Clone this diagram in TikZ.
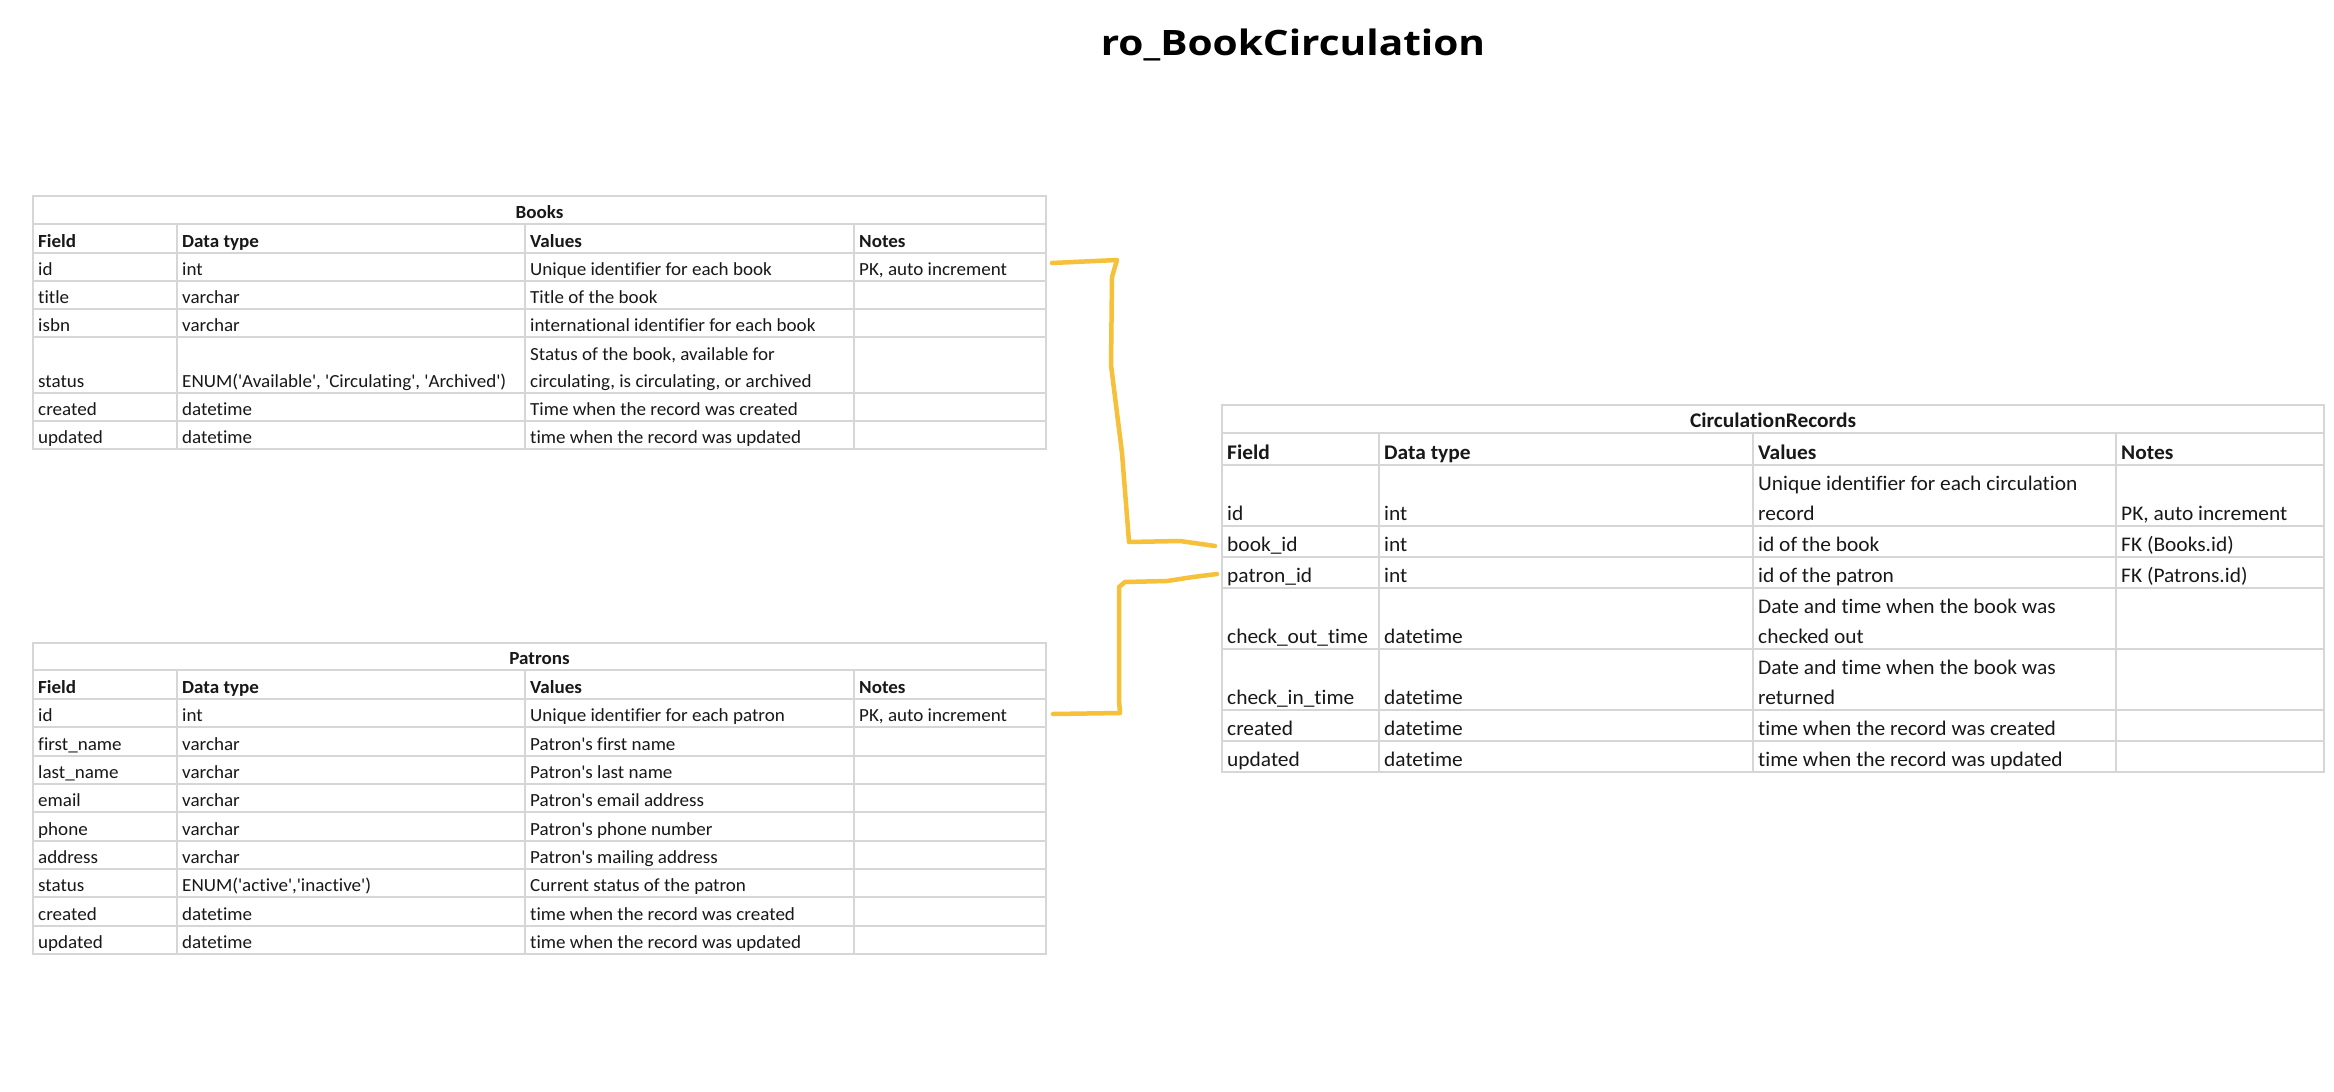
\documentclass[tikz,border=0pt]{standalone}
\usepackage{fontspec}
\setmainfont{Carlito}[FakeStretch=1.03,Ligatures={TeX,NoCommon}]
\newfontfamily\titlefont{Open Sans}[FakeStretch=1.16]
\usetikzlibrary{positioning}
\definecolor{gridcolor}{RGB}{214,214,214}
\definecolor{textcolor}{RGB}{24,24,24}
\definecolor{linkcolor}{RGB}{246,192,58}
\newcommand{\sq}{\textquotesingle}
\tikzset{
	cell/.style={
		anchor=base west,
		inner sep=0pt,
		text=textcolor,
		font=\fontsize{18.5}{22}\selectfont
	},
	headcell/.style={
		cell,
		font=\fontsize{18.5}{22}\selectfont\bfseries
	},
	ccell/.style={
		cell,
		font=\fontsize{20.8}{25}\selectfont
	},
	cheadcell/.style={
		cell,
		font=\fontsize{20.8}{25}\selectfont\bfseries
	},
	tabletitle/.style={
		anchor=base
	},
	gridline/.style={
		draw=gridcolor,
		line width=1.5pt
	},
	link/.style={
		draw=linkcolor,
		line width=4.5pt,
		line cap=round,
		line join=round
	},
}

\begin{document}
\begin{tikzpicture}[x=1pt,y=-1pt]
	\fill[white] (0,0) rectangle (2334,1092);
	\node[anchor=base,inner sep=0pt,font=\titlefont\fontsize{35}{40}\selectfont\bfseries] (diagtitle) at (1293,55) {ro\_BookCirculation};

	% Books
	\draw[gridline] (33,196) rectangle (1046,449);
	\foreach \y in {224,253,281,309,337,393,421}
		\draw[gridline] (33,\y) -- (1046,\y);
	\foreach \x in {177,525,854}
		\draw[gridline] (\x,224) -- (\x,449);
	\node[headcell,tabletitle] (books) at (539.5,218) {Books};
	\node[headcell] (b-field) at (38,247) {Field};
	\node[headcell] (b-type) at (182,247) {Data type};
	\node[headcell] (b-values) at (530,247) {Values};
	\node[headcell] (b-notes) at (859,247) {Notes};
	\node[cell] (b-id-f) at (38,275) {id};
	\node[cell] (b-id-t) at (182,275) {int};
	\node[cell] (b-id-v) at (530,275) {Unique identifier for each book};
	\node[cell] (b-id-n) at (859,275) {PK, auto increment};
	\node[cell] (b-title-f) at (38,303) {title};
	\node[cell] (b-title-t) at (182,303) {varchar};
	\node[cell] (b-title-v) at (530,303) {Title of the book};
	\node[cell] (b-isbn-f) at (38,331) {isbn};
	\node[cell] (b-isbn-t) at (182,331) {varchar};
	\node[cell] (b-isbn-v) at (530,331) {international identifier for each book};
	\node[cell] (b-status-f) at (38,387) {status};
	\node[cell] (b-status-t) at (182,387) {ENUM(\sq Available\sq, \sq Circulating\sq, \sq Archived\sq)};
	\node[cell] (b-status-v1) at (530,360) {Status of the book, available for};
	\node[cell] (b-status-v2) at (530,387) {circulating, is circulating, or archived};
	\node[cell] (b-created-f) at (38,415) {created};
	\node[cell] (b-created-t) at (182,415) {datetime};
	\node[cell] (b-created-v) at (530,415) {Time when the record was created};
	\node[cell] (b-updated-f) at (38,443) {updated};
	\node[cell] (b-updated-t) at (182,443) {datetime};
	\node[cell] (b-updated-v) at (530,443) {time when the record was updated};

	% Patrons
	\draw[gridline] (33,643) rectangle (1046,954);
	\foreach \y in {670,699,727,756,784,812,841,869,897,926}
		\draw[gridline] (33,\y) -- (1046,\y);
	\foreach \x in {177,525,854}
		\draw[gridline] (\x,670) -- (\x,954);
	\node[headcell,tabletitle] (patrons) at (539.5,664) {Patrons};
	\node[headcell] (p-field) at (38,693) {Field};
	\node[headcell] (p-type) at (182,693) {Data type};
	\node[headcell] (p-values) at (530,693) {Values};
	\node[headcell] (p-notes) at (859,693) {Notes};
	\node[cell] (p-id-f) at (38,721) {id};
	\node[cell] (p-id-t) at (182,721) {int};
	\node[cell] (p-id-v) at (530,721) {Unique identifier for each patron};
	\node[cell] (p-id-n) at (859,721) {PK, auto increment};
	\node[cell] (p-first-f) at (38,750) {first\_name};
	\node[cell] (p-first-t) at (182,750) {varchar};
	\node[cell] (p-first-v) at (530,750) {Patron\sq s first name};
	\node[cell] (p-last-f) at (38,778) {last\_name};
	\node[cell] (p-last-t) at (182,778) {varchar};
	\node[cell] (p-last-v) at (530,778) {Patron\sq s last name};
	\node[cell] (p-email-f) at (38,806) {email};
	\node[cell] (p-email-t) at (182,806) {varchar};
	\node[cell] (p-email-v) at (530,806) {Patron\sq s email address};
	\node[cell] (p-phone-f) at (38,835) {phone};
	\node[cell] (p-phone-t) at (182,835) {varchar};
	\node[cell] (p-phone-v) at (530,835) {Patron\sq s phone number};
	\node[cell] (p-address-f) at (38,863) {address};
	\node[cell] (p-address-t) at (182,863) {varchar};
	\node[cell] (p-address-v) at (530,863) {Patron\sq s mailing address};
	\node[cell] (p-status-f) at (38,891) {status};
	\node[cell] (p-status-t) at (182,891) {ENUM(\sq active\sq,\sq inactive\sq)};
	\node[cell] (p-status-v) at (530,891) {Current status of the patron};
	\node[cell] (p-created-f) at (38,920) {created};
	\node[cell] (p-created-t) at (182,920) {datetime};
	\node[cell] (p-created-v) at (530,920) {time when the record was created};
	\node[cell] (p-updated-f) at (38,948) {updated};
	\node[cell] (p-updated-t) at (182,948) {datetime};
	\node[cell] (p-updated-v) at (530,948) {time when the record was updated};

	% CirculationRecords
	\draw[gridline] (1222,405) rectangle (2324,772);
	\foreach \y in {433,465,526,557,588,649,710,741}
		\draw[gridline] (1222,\y) -- (2324,\y);
	\foreach \x in {1379,1753,2116}
		\draw[gridline] (\x,433) -- (\x,772);
	\node[cheadcell,tabletitle] (circ) at (1773,427) {CirculationRecords};
	\node[cheadcell] (c-field) at (1227,459) {Field};
	\node[cheadcell] (c-type) at (1384,459) {Data type};
	\node[cheadcell] (c-values) at (1758,459) {Values};
	\node[cheadcell] (c-notes) at (2121,459) {Notes};
	\node[ccell] (c-id-f) at (1227,520) {id};
	\node[ccell] (c-id-t) at (1384,520) {int};
	\node[ccell] (c-id-v1) at (1758,490) {Unique identifier for each circulation};
	\node[ccell] (c-id-v2) at (1758,520) {record};
	\node[ccell] (c-id-n) at (2121,520) {PK, auto increment};
	\node[ccell] (c-book-f) at (1227,551) {book\_id};
	\node[ccell] (c-book-t) at (1384,551) {int};
	\node[ccell] (c-book-v) at (1758,551) {id of the book};
	\node[ccell] (c-book-n) at (2121,551) {FK (Books.id)};
	\node[ccell] (c-patron-f) at (1227,582) {patron\_id};
	\node[ccell] (c-patron-t) at (1384,582) {int};
	\node[ccell] (c-patron-v) at (1758,582) {id of the patron};
	\node[ccell] (c-patron-n) at (2121,582) {FK (Patrons.id)};
	\node[ccell] (c-out-f) at (1227,643) {check\_out\_time};
	\node[ccell] (c-out-t) at (1384,643) {datetime};
	\node[ccell] (c-out-v1) at (1758,613) {Date and time when the book was};
	\node[ccell] (c-out-v2) at (1758,643) {checked out};
	\node[ccell] (c-in-f) at (1227,704) {check\_in\_time};
	\node[ccell] (c-in-t) at (1384,704) {datetime};
	\node[ccell] (c-in-v1) at (1758,674) {Date and time when the book was};
	\node[ccell] (c-in-v2) at (1758,704) {returned};
	\node[ccell] (c-created-f) at (1227,735) {created};
	\node[ccell] (c-created-t) at (1384,735) {datetime};
	\node[ccell] (c-created-v) at (1758,735) {time when the record was created};
	\node[ccell] (c-updated-f) at (1227,766) {updated};
	\node[ccell] (c-updated-t) at (1384,766) {datetime};
	\node[ccell] (c-updated-v) at (1758,766) {time when the record was updated};

	% links
	\coordinate (books-id-end) at (1052,263);
	\coordinate (circ-book-end) at (1215,546);
	\coordinate (patrons-id-end) at (1053,714);
	\coordinate (circ-patron-end) at (1217,574);
	\draw[link] (books-id-end) -- (1117,260) -- (1112,277) -- (1111,365) -- (1122,453) -- (1129,542) -- (1180,541) -- (circ-book-end);
	\draw[link] (patrons-id-end) -- (1120,713) -- (1119,700) -- (1119,587) -- (1125,582) -- (1167,581) -- (1193,577) -- (circ-patron-end);
\end{tikzpicture}
\end{document}
